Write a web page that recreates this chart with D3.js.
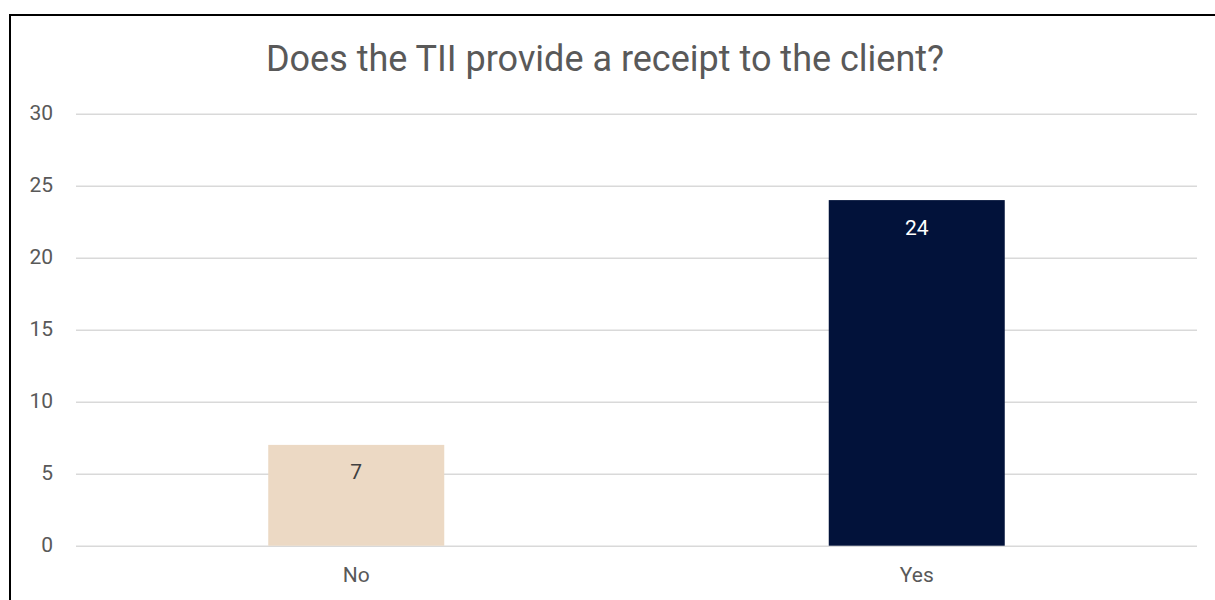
<!DOCTYPE html>
<html>
<head>
<meta charset="utf-8">
<script src="https://cdn.jsdelivr.net/npm/d3@7"></script>
<style>
  html, body { margin: 0; padding: 0; background: #ffffff; }
  svg { display: block; }
  text { font-family: Roboto, "Noto Sans", sans-serif; }
</style>
</head>
<body>
<svg id="chart" width="1215" height="600"></svg>
<script>
// Survey answers and counts
const categories = ["No", "Yes"];
const counts = [7, 24];
const barColors = ["#ecd9c4", "#02123a"];
const labelColors = ["#404040", "#ffffff"];
const yTicks = [0, 5, 10, 15, 20, 25, 30];
const chartTitle = "Does the TII provide a receipt to the client?";

const svg = d3.select("#chart");
const W = 1215, H = 600;
const plot = { left: 76, right: 1197, top: 113.7, bottom: 545.7 };
const labelFont = 21;

// Outer frame
svg.append("rect")
  .attr("x", 10).attr("y", 15)
  .attr("width", W + 20).attr("height", H + 20)
  .attr("fill", "#ffffff")
  .attr("stroke", "#000000")
  .attr("stroke-width", 2);

// Title
svg.append("text")
  .attr("x", 605).attr("y", 71)
  .attr("text-anchor", "middle")
  .attr("font-size", 36)
  .attr("fill", "#595959")
  .text(chartTitle);

const x = d3.scaleBand()
  .domain(categories)
  .range([plot.left, plot.right])
  .paddingInner(0.686)
  .paddingOuter(0.343);

const y = d3.scaleLinear()
  .domain([0, 30])
  .range([plot.bottom, plot.top]);

// Horizontal gridlines with value labels
const yAxis = d3.axisLeft(y)
  .tickValues(yTicks)
  .tickSize(-(plot.right - plot.left))
  .tickPadding(23)
  .tickFormat(d3.format("d"));

const gy = svg.append("g")
  .attr("transform", `translate(${plot.left},0)`)
  .call(yAxis)
  .attr("font-size", labelFont)
  .attr("font-family", "Roboto, 'Noto Sans', sans-serif");
gy.select(".domain").remove();
gy.selectAll(".tick line")
  .attr("stroke", "#d9d9d9")
  .attr("stroke-width", 1.5);
gy.selectAll(".tick text")
  .attr("fill", "#595959")
  .attr("dy", "0.28em");

// Category labels
const xAxis = d3.axisBottom(x).tickSize(0).tickPadding(21);
const gx = svg.append("g")
  .attr("transform", `translate(0,${plot.bottom})`)
  .call(xAxis)
  .attr("font-size", labelFont)
  .attr("font-family", "Roboto, 'Noto Sans', sans-serif");
gx.select(".domain").remove();
gx.selectAll(".tick text")
  .attr("fill", "#595959");

// Bars
const data = categories.map((c, i) => ({ c, v: counts[i], fill: barColors[i], lab: labelColors[i] }));

svg.append("g").selectAll("rect")
  .data(data)
  .join("rect")
  .attr("x", d => x(d.c))
  .attr("width", x.bandwidth())
  .attr("y", d => y(d.v))
  .attr("height", d => y(0) - y(d.v))
  .attr("fill", d => d.fill);

// Value labels inside the bar tops
svg.append("g").selectAll("text")
  .data(data)
  .join("text")
  .attr("x", d => x(d.c) + x.bandwidth() / 2)
  .attr("y", d => y(d.v) + 27)
  .attr("dy", "0.36em")
  .attr("text-anchor", "middle")
  .attr("font-size", labelFont)
  .attr("fill", d => d.lab)
  .text(d => d.v);
</script>
</body>
</html>
